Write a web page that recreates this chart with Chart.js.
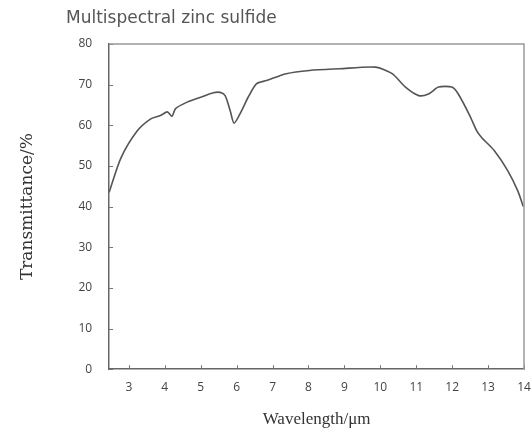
<!DOCTYPE html>
<html>
<head>
<meta charset="utf-8">
<script src="https://cdn.jsdelivr.net/npm/chart.js@4.4.1/dist/chart.umd.min.js"></script>
<style>
html,body{margin:0;padding:0;background:#fff;}
#wrap{position:relative;width:532px;height:436px;}
</style>
</head>
<body>
<div id="wrap"><canvas id="c" width="532" height="436"></canvas></div>
<script>
const wavelength = [2.45, 2.78, 3.24, 3.61, 3.88, 4.07, 4.2, 4.3, 4.62, 5.0, 5.35, 5.54, 5.68, 5.82, 5.93, 6.14, 6.32, 6.55, 6.83, 7.38, 8.03, 8.86, 9.87, 10.33, 10.7, 11.07, 11.34, 11.62, 11.99, 12.17, 12.49, 12.68, 12.82, 13.18, 13.55, 13.83, 13.98];
const transmittance = [43.5, 52, 58.7, 61.6, 62.4, 63.3, 62.2, 64.1, 65.7, 66.9, 68.0, 68.1, 67.3, 63.6, 60.5, 63.6, 66.9, 70.2, 71.0, 72.7, 73.5, 73.9, 74.3, 72.7, 69.4, 67.3, 67.7, 69.4, 69.4, 67.7, 62.4, 58.7, 57.0, 53.7, 48.8, 43.8, 40.0];
const xTicks = [3, 4, 5, 6, 7, 8, 9, 10, 11, 12, 13, 14];
const yTicks = [0, 10, 20, 30, 40, 50, 60, 70, 80];
const titleText = 'Multispectral zinc sulfide';
const xTitle = 'Wavelength/\u03bcm';
const yTitle = 'Transmittance/%';

const points = wavelength.map((x, i) => ({x: x, y: transmittance[i]}));

const decor = {
  id: 'decor',
  afterDatasetsDraw(chart) {
    const ctx = chart.ctx;
    const xs = chart.scales.x, ys = chart.scales.y;
    const a = chart.chartArea;
    ctx.save();
    ctx.strokeStyle = '#777';
    ctx.lineWidth = 1;
    ctx.beginPath();
    xTicks.forEach(v => {
      const px = Math.round(xs.getPixelForValue(v)) + 0.5;
      ctx.moveTo(px, a.bottom);
      ctx.lineTo(px, a.bottom - 4);
    });
    yTicks.forEach(v => {
      const py = Math.round(ys.getPixelForValue(v)) + 0.5;
      ctx.moveTo(a.left, py);
      ctx.lineTo(a.left + 4, py);
    });
    ctx.stroke();
    ctx.strokeStyle = '#999';
    ctx.lineWidth = 1.5;
    ctx.beginPath();
    ctx.moveTo(a.left, a.top);
    ctx.lineTo(a.right, a.top);
    ctx.lineTo(a.right, a.bottom);
    ctx.stroke();
    ctx.fillStyle = '#555';
    ctx.font = '17px "DejaVu Sans"';
    ctx.textBaseline = 'middle';
    ctx.textAlign = 'left';
    ctx.fillText(titleText, 66, 19);
    ctx.restore();
  }
};

new Chart(document.getElementById('c'), {
  type: 'line',
  data: {
    datasets: [{
      data: points,
      borderColor: '#555',
      borderWidth: 1.6,
      pointRadius: 0,
      tension: 0.25,
      fill: false
    }]
  },
  options: {
    responsive: false,
    animation: false,
    layout: {padding: {left: 17, right: 0, top: 44, bottom: 6}},
    plugins: {
      legend: {display: false},
      tooltip: {enabled: false},
      title: {display: false}
    },
    scales: {
      x: {
        type: 'linear',
        min: 2.45,
        max: 14,
        afterBuildTicks: s => { s.ticks = xTicks.map(v => ({value: v})); },
        afterFit: s => { s.paddingRight = 8; },
        grid: {display: false, drawTicks: false},
        border: {display: true, color: '#666', width: 1.5},
        ticks: {color: '#444', font: {family: 'Open Sans', size: 12}, padding: 11, maxRotation: 0},
        title: {display: true, text: xTitle, color: '#333', font: {family: 'Liberation Serif', size: 17}, padding: {top: 4, bottom: 0}}
      },
      y: {
        type: 'linear',
        min: 0,
        max: 80,
        afterBuildTicks: s => { s.ticks = yTicks.map(v => ({value: v})); },
        grid: {display: false, drawTicks: false},
        border: {display: true, color: '#666', width: 1.5},
        ticks: {color: '#444', font: {family: 'Open Sans', size: 12}, padding: 17},
        title: {display: true, text: yTitle, color: '#333', font: {family: 'DejaVu Serif', size: 17}, padding: {top: 0, bottom: 24}}
      }
    }
  },
  plugins: [decor]
});
</script>
</body>
</html>
